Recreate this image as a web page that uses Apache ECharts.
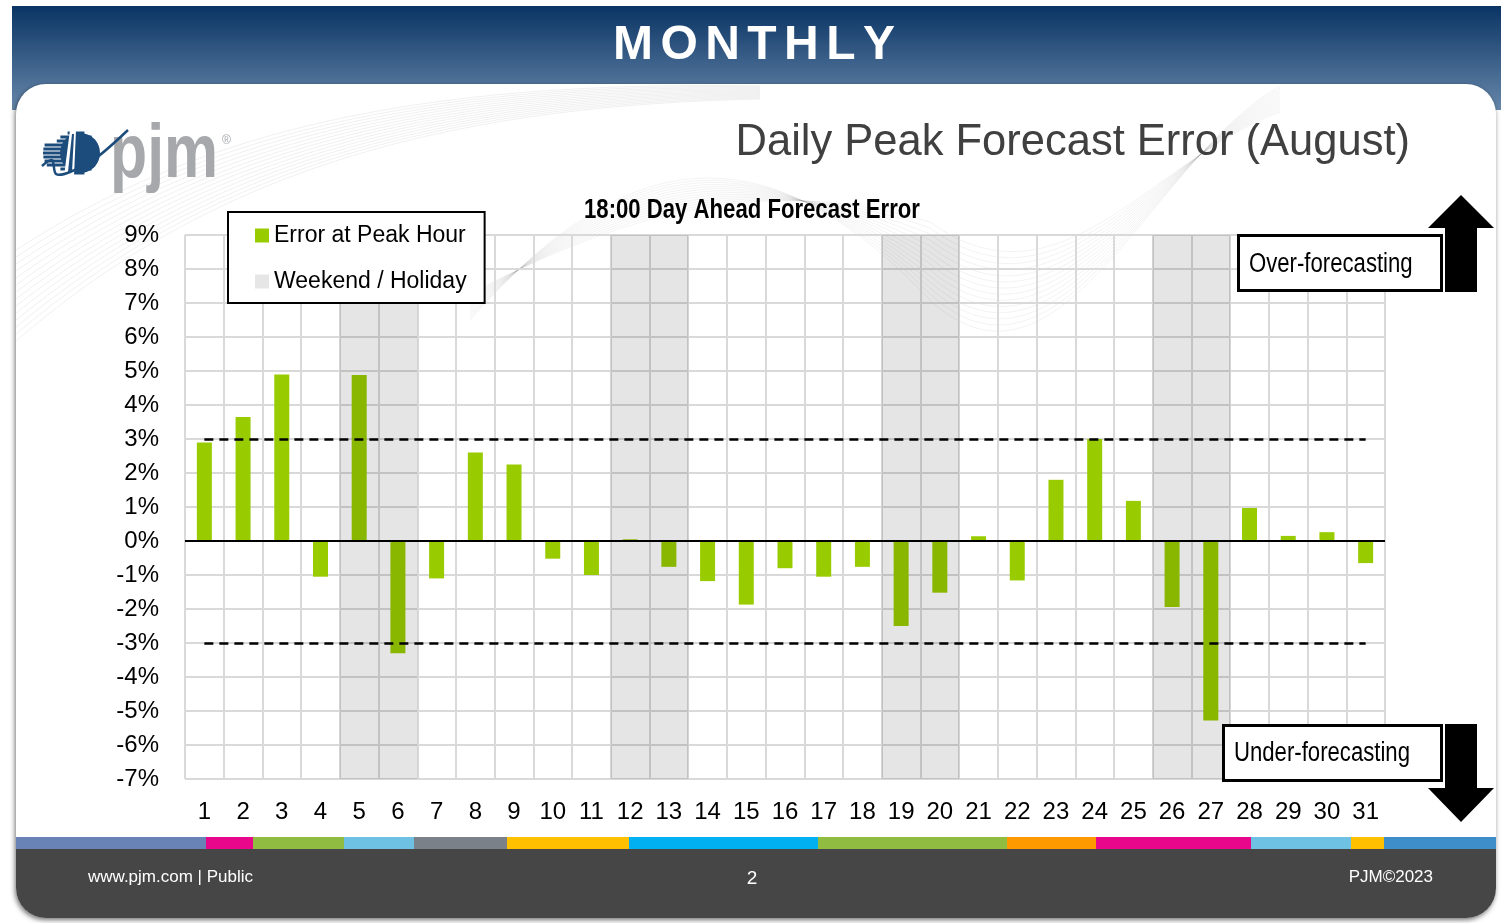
<!DOCTYPE html>
<html>
<head>
<meta charset="utf-8">
<title>Daily Peak Forecast Error (August)</title>
<script src="https://cdn.jsdelivr.net/npm/echarts@6/dist/echarts.min.js"></script>
<style>
  html, body { margin: 0; padding: 0; background: #fff; }
  #main { width: 1501px; height: 923px; }
</style>
</head>
<body>
<div id="main"></div>
<script>
// 数据
var days = ['1', '2', '3', '4', '5', '6', '7', '8', '9', '10', '11', '12', '13', '14', '15', '16',
  '17', '18', '19', '20', '21', '22', '23', '24', '25', '26', '27', '28', '29', '30', '31'];
var peakError = [2.9, 3.65, 4.9, -1.05, 4.88, -3.3, -1.1, 2.6, 2.25, -0.52, -1.0, 0.05, -0.76, -1.18, -1.87, -0.8,
  -1.05, -0.76, -2.5, -1.52, 0.14, -1.16, 1.8, 3.0, 1.18, -1.94, -5.28, 0.97, 0.15, 0.26, -0.65];
var weekendDays = ['5', '6', '12', '13', '19', '20', '26', '27'];
var yMin = -7, yMax = 9;
var errorLimit = 3;

var SANS = '"Liberation Sans", Arial, sans-serif';
var NARROW = 0.82; // 原图用的是窄体字，这里横向压缩

// 周末/假日 的灰色底
var bandUp = days.map(function (d) { return weekendDays.indexOf(d) >= 0 ? yMax : '-'; });
var bandDown = days.map(function (d) { return weekendDays.indexOf(d) >= 0 ? yMin : '-'; });

// 底部彩条
var stripe = [
  [16, 206, '#6a83b6'], [206, 253, '#e8078a'], [253, 344, '#8fbc41'], [344, 414, '#6ec1e2'],
  [414, 507, '#7a8189'], [507, 629, '#ffc000'], [629, 818, '#00b0f0'], [818, 1007, '#8fbc41'],
  [1007, 1096, '#ff9900'], [1096, 1251, '#e8078a'], [1251, 1351, '#6ec1e2'], [1351, 1384, '#ffc000'],
  [1384, 1496, '#3e8fc9']
];

var box = echarts.init(document.getElementById('main'));
var graphics = [];

// 页面背景
graphics.push({
  type: 'rect', z: -20, silent: true,
  shape: { x: 12, y: 6, width: 1489, height: 104 },
  style: { fill: new echarts.graphic.LinearGradient(0, 0, 0, 1, [
    { offset: 0, color: '#0a3464' }, { offset: 1, color: '#6787aa' }]) }
});
graphics.push({
  type: 'rect', z: -19, silent: true,
  shape: { x: 16, y: 84, width: 1480, height: 834, r: 30 },
  style: { fill: '#fff', shadowBlur: 5, shadowOffsetX: -1, shadowOffsetY: 2, shadowColor: 'rgba(0,0,0,0.55)' }
});
// 背景里的细弧线
for (var i = 0; i < 14; i++) {
  graphics.push({
    type: 'bezierCurve', z: -18, silent: true,
    shape: { x1: 16, y1: 250 + i * 7, cpx1: 200, cpy1: 130 + i * 4, cpx2: 420, cpy2: 80 + i * 2, x2: 760, y2: 86 + i },
    style: { stroke: 'rgba(120,120,120,0.11)', lineWidth: 1, fill: null }
  });
  graphics.push({
    type: 'bezierCurve', z: -18, silent: true,
    shape: { x1: 470, y1: 320 - i * 2, cpx1: 620, cpy1: 150 + i * 5, cpx2: 760, cpy2: 120 + i * 4, x2: 930, y2: 300 - i * 6 },
    style: { stroke: 'rgba(120,120,120,0.09)', lineWidth: 1, fill: null }
  });
  graphics.push({
    type: 'bezierCurve', z: -18, silent: true,
    shape: { x1: 930, y1: 300 - i * 6, cpx1: 1060, cpy1: 420 - i * 8, cpx2: 1150, cpy2: 160, x2: 1280, y2: 86 + i * 2 },
    style: { stroke: 'rgba(120,120,120,0.09)', lineWidth: 1, fill: null }
  });
}

// 页脚
graphics.push({
  type: 'rect', z: -17, silent: true,
  shape: { x: 16, y: 849, width: 1480, height: 69, r: [0, 0, 30, 30] },
  style: { fill: '#464646' }
});
stripe.forEach(function (s) {
  graphics.push({
    type: 'rect', z: -16, silent: true,
    shape: { x: s[0], y: 837, width: s[1] - s[0], height: 12 },
    style: { fill: s[2] }
  });
});
graphics.push({ type: 'text', z: 10, x: 88, y: 877, style: { text: 'www.pjm.com | Public', fill: '#fff', font: '17px ' + SANS, verticalAlign: 'middle' } });
graphics.push({ type: 'text', z: 10, x: 752, y: 879, style: { text: '2', fill: '#fff', font: '19px ' + SANS, align: 'center', verticalAlign: 'middle' } });
graphics.push({ type: 'text', z: 10, x: 1433, y: 877, style: { text: 'PJM\u00a92023', fill: '#fff', font: '17px ' + SANS, align: 'right', verticalAlign: 'middle' } });

// 标题 MONTHLY（逐字加间距）
var ctx = document.createElement('canvas').getContext('2d');
var headFont = 'bold 48px ' + SANS;
ctx.font = headFont;
var letters = 'MONTHLY'.split('');
var widths = letters.map(function (c) { return ctx.measureText(c).width; });
var sumW = widths.reduce(function (a, b) { return a + b; }, 0);
var spacing = (282 - sumW) / 6;
var lx = 754 - 141;
letters.forEach(function (c, k) {
  graphics.push({ type: 'text', z: 10, x: lx, y: 46, style: { text: c, fill: '#fff', font: headFont, verticalAlign: 'middle' } });
  lx += widths[k] + spacing;
});

graphics.push({ type: 'text', z: 10, x: 1410, y: 143, style: { text: 'Daily Peak Forecast Error (August)', fill: '#404040', font: '43.5px ' + SANS, align: 'right', verticalAlign: 'middle' } });
graphics.push({ type: 'text', z: 10, x: 752, y: 211, scaleX: NARROW, style: { text: '18:00 Day Ahead Forecast Error', fill: '#000', font: 'bold 27px ' + SANS, align: 'center', verticalAlign: 'middle' } });

// pjm 标志
for (var r = 0; r < 11; r++) {
  var dy = -20 + r * 4;
  var hw = Math.sqrt(Math.max(0, 21 * 21 - dy * dy));
  graphics.push({
    type: 'rect', z: 10, silent: true,
    shape: { x: 78 - hw - (r > 2 && r < 9 ? 14 : 4), y: 153 + dy - 1.5, width: hw * 2 + (r > 2 && r < 9 ? 14 : 4), height: 3 },
    style: { fill: '#1c4c7c' }
  });
}
graphics.push({ type: 'circle', z: 9, silent: true, shape: { cx: 80, cy: 153, r: 20 }, style: { fill: '#1c4c7c' } });
graphics.push({ type: 'polygon', z: 11, silent: true, shape: { points: [[70, 130], [76, 130], [74, 176], [64, 176]] }, style: { fill: '#fff' } });
graphics.push({ type: 'polygon', z: 12, silent: true, shape: { points: [[72, 134], [74, 134], [72, 172], [68, 172]] }, style: { fill: '#1c4c7c' } });
graphics.push({
  type: 'polyline', z: 12, silent: true,
  shape: { points: [[42, 166], [52, 160], [56, 174], [70, 172], [96, 158], [128, 130]], smooth: 0.3 },
  style: { stroke: '#1c4c7c', lineWidth: 2.5, fill: null }
});
graphics.push({ type: 'text', z: 10, x: 110, y: 156, scaleX: 0.8, style: { text: 'pjm', fill: '#a6a8ab', font: 'bold 76px ' + SANS, verticalAlign: 'middle' } });
graphics.push({ type: 'text', z: 10, x: 222, y: 141, style: { text: '\u00ae', fill: '#a6a8ab', font: '12px ' + SANS, verticalAlign: 'middle' } });

// 右侧箭头与说明框
graphics.push({ type: 'polygon', z: 10, silent: true, shape: { points: [[1461, 195], [1494, 228], [1477, 228], [1477, 292], [1445, 292], [1445, 228], [1428, 228]] }, style: { fill: '#000' } });
graphics.push({ type: 'polygon', z: 10, silent: true, shape: { points: [[1445, 724], [1477, 724], [1477, 788], [1494, 788], [1461, 822], [1428, 788], [1445, 788]] }, style: { fill: '#000' } });
graphics.push({ type: 'rect', z: 10, silent: true, shape: { x: 1238.5, y: 235.5, width: 203, height: 55 }, style: { fill: '#fff', stroke: '#000', lineWidth: 3 } });
graphics.push({ type: 'text', z: 11, x: 1249, y: 265, scaleX: NARROW, style: { text: 'Over-forecasting', fill: '#000', font: '27px ' + SANS, verticalAlign: 'middle' } });
graphics.push({ type: 'rect', z: 10, silent: true, shape: { x: 1223.5, y: 725.5, width: 218, height: 55 }, style: { fill: '#fff', stroke: '#000', lineWidth: 3 } });
graphics.push({ type: 'text', z: 11, x: 1234, y: 754, scaleX: NARROW, style: { text: 'Under-forecasting', fill: '#000', font: '27px ' + SANS, verticalAlign: 'middle' } });

var option = {
  animation: false,
  backgroundColor: '#fff',
  legend: {
    left: 228,
    top: 212,
    orient: 'vertical',
    itemWidth: 14,
    itemHeight: 14,
    itemGap: 23,
    padding: [12, 18, 10, 27],
    backgroundColor: '#fff',
    borderColor: '#000',
    borderWidth: 2,
    textStyle: { fontFamily: SANS, fontSize: 23, color: '#000' },
    data: [
      { name: 'Error at Peak Hour', icon: 'rect' },
      { name: 'Weekend / Holiday', icon: 'rect', itemStyle: { color: '#e6e6e6' } }
    ]
  },
  grid: { left: 185, right: 116, top: 235, bottom: 144 },
  xAxis: [{
    type: 'category',
    data: days,
    axisLine: { show: false },
    axisTick: { show: false },
    axisLabel: { interval: 0, fontFamily: SANS, fontSize: 24, color: '#000', margin: 21 },
    splitLine: { show: true, interval: 0, lineStyle: { color: '#d9d9d9', width: 2 } }
  }, {
    type: 'category',
    data: days,
    show: false
  }],
  yAxis: {
    type: 'value',
    min: yMin,
    max: yMax,
    interval: 1,
    axisLine: { show: false },
    axisTick: { show: false },
    axisLabel: { formatter: '{value}%', fontFamily: SANS, fontSize: 24, color: '#000', margin: 26 },
    splitLine: { lineStyle: { color: '#d9d9d9', width: 2 } }
  },
  series: [{
    name: 'Error at Peak Hour',
    type: 'bar',
    barWidth: 15,
    z: 2,
    data: peakError,
    itemStyle: { color: '#99cc00' },
    markLine: {
      silent: true,
      symbol: 'none',
      label: { show: false },
      lineStyle: { color: '#000', type: [9, 6], width: 2.5 },
      data: [
        { yAxis: 0, lineStyle: { type: 'solid', width: 2, color: '#000' } },
        [{ coord: [days[0], errorLimit] }, { coord: [days[days.length - 1], errorLimit] }],
        [{ coord: [days[0], -errorLimit] }, { coord: [days[days.length - 1], -errorLimit] }]
      ]
    }
  }, {
    name: 'Weekend / Holiday',
    type: 'bar',
    xAxisIndex: 1,
    barWidth: '100%',
    barGap: '-100%',
    z: 3,
    silent: true,
    data: bandUp,
    itemStyle: { color: 'rgba(0,0,0,0.1)' }
  }, {
    name: 'Weekend / Holiday',
    type: 'bar',
    xAxisIndex: 1,
    barWidth: '100%',
    barGap: '-100%',
    z: 3,
    silent: true,
    data: bandDown,
    itemStyle: { color: 'rgba(0,0,0,0.1)' }
  }],
  graphic: graphics
};

box.setOption(option);
</script>
</body>
</html>
